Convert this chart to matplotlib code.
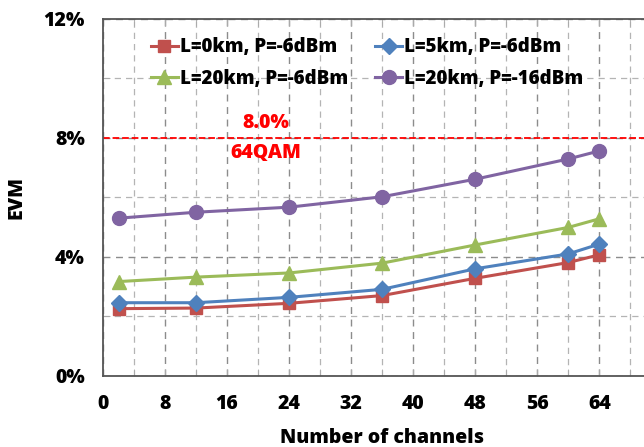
import matplotlib.pyplot as plt
from matplotlib.ticker import MultipleLocator, FuncFormatter, FixedLocator

plt.rcParams['font.family'] = ['Open Sans', 'DejaVu Sans']
plt.rcParams['font.weight'] = 'bold'

channels = [2, 12, 24, 36, 48, 60, 64]
evm_0km_6 = [2.26, 2.28, 2.44, 2.70, 3.28, 3.81, 4.07]
evm_5km_6 = [2.46, 2.46, 2.64, 2.91, 3.60, 4.10, 4.43]
evm_20km_6 = [3.17, 3.32, 3.46, 3.79, 4.40, 4.99, 5.28]
evm_20km_16 = [5.30, 5.50, 5.67, 6.02, 6.61, 7.29, 7.56]
limit_64qam = 8.0
x_ticks = [0, 8, 16, 24, 32, 40, 48, 56, 64]

series = [
    (evm_0km_6, 'L=0km, P=-6dBm', '#C0504D', 's', 9),
    (evm_5km_6, 'L=5km, P=-6dBm', '#4F81BD', 'D', 8),
    (evm_20km_6, 'L=20km, P=-6dBm', '#9BBB59', '^', 10),
    (evm_20km_16, 'L=20km, P=-16dBm', '#8064A2', 'o', 10),
]

fig = plt.figure(figsize=(6.44, 4.47), dpi=100)
ax = fig.add_axes([0.160, 0.159, 0.867, 0.799])

lines = []
for vals, label, color, marker, ms in series:
    ln, = ax.plot(channels, vals, color=color, marker=marker, markersize=ms,
                  linewidth=2.2, label=label, zorder=3)
    lines.append(ln)

ax.axhline(limit_64qam, color='#FF0000', linestyle='--', linewidth=1.3, zorder=2)
ax.text(21, 8.5, f'{limit_64qam:.1f}%', color='#FF0000', fontsize=14,
        fontweight='heavy', ha='center', va='center')
ax.text(21, 7.5, '64QAM', color='#FF0000', fontsize=14,
        fontweight='heavy', ha='center', va='center')

ax.set_xlim(0, 72)
ax.set_ylim(0, 12)
ax.xaxis.set_major_locator(FixedLocator(x_ticks + [72]))
ax.xaxis.set_major_formatter(FuncFormatter(lambda v, p: f'{v:.0f}' if v in x_ticks else ''))
ax.xaxis.set_minor_locator(MultipleLocator(4))
ax.yaxis.set_major_locator(MultipleLocator(4))
ax.yaxis.set_minor_locator(MultipleLocator(2))
ax.yaxis.set_major_formatter(FuncFormatter(lambda v, p: f'{v:.0f}%'))

ax.grid(which='major', color='#8C8C8C', linestyle=(0, (5, 4)), linewidth=1.0)
ax.grid(which='minor', color='#B4B4B4', linestyle=(0, (5, 4)), linewidth=0.9)
ax.set_axisbelow(True)

ax.tick_params(axis='both', which='major', labelsize=14, length=0, pad=13)
ax.tick_params(axis='x', which='both', direction='in', top=True, length=5,
               color='#AAAAAA')
ax.tick_params(axis='y', which='minor', direction='in', length=5, color='#AAAAAA')
for lab in ax.get_xticklabels() + ax.get_yticklabels():
    lab.set_fontweight('heavy')

for side in ['left', 'bottom', 'top']:
    ax.spines[side].set_color('#555555')
    ax.spines[side].set_linewidth(1.3)
ax.spines['right'].set_visible(False)

ax.set_xlabel('Number of channels', fontsize=14, fontweight='heavy', labelpad=10)
ax.set_ylabel('EVM', fontsize=14, fontweight='heavy', labelpad=12)

# legend rows: red/blue on top, green/purple below
order = [0, 2, 1, 3]
ax.legend([lines[i] for i in order], [series[i][1] for i in order],
          loc='upper left', bbox_to_anchor=(0.055, 0.995), ncol=2, frameon=False,
          handlelength=1.45, handletextpad=0.1, columnspacing=1.45,
          labelspacing=0.6, prop={'weight': 'heavy', 'size': 13.5})

fig.savefig('out.png', dpi=100)
